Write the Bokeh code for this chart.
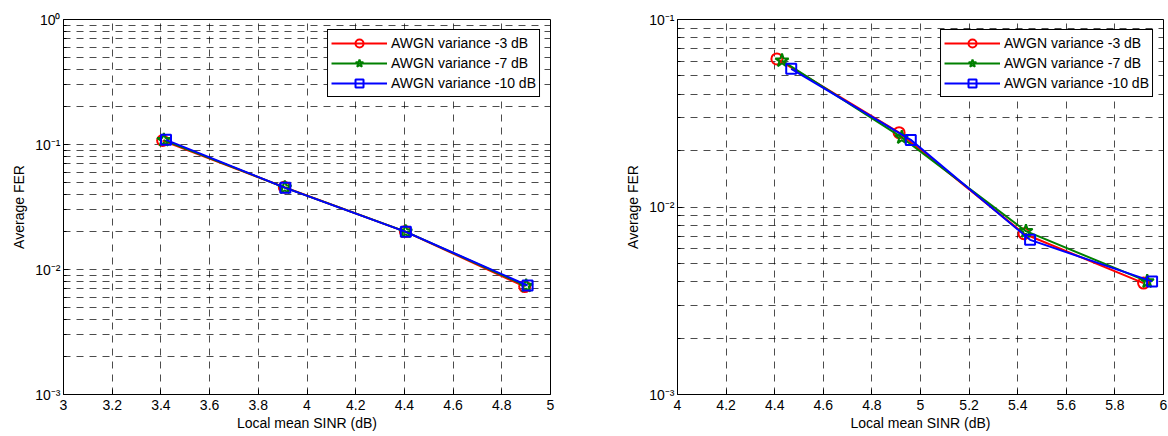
from bokeh.plotting import figure
from bokeh.layouts import row
from bokeh.models import Range1d, FixedTicker, Legend, LegendItem
from bokeh.embed import file_html
from bokeh.resources import INLINE

# ---------------- data ----------------
series_names = ["AWGN variance -3 dB", "AWGN variance -7 dB", "AWGN variance -10 dB"]
series_colors = ["#ff0000", "#008000", "#0000ff"]
series_markers = ["circle", "star", "square"]

# left panel
left_x_red = [3.407, 3.907, 4.404, 4.894]
left_y_red = [0.1076, 0.0455, 0.0201, 0.0073]
left_x_green = [3.412, 3.909, 4.405, 4.900]
left_y_green = [0.1085, 0.0452, 0.0201, 0.0074]
left_x_blue = [3.421, 3.911, 4.406, 4.906]
left_y_blue = [0.1090, 0.0450, 0.0200, 0.00745]

# right panel
right_x_red = [4.409, 4.912, 5.426, 5.918]
right_y_red = [0.0616, 0.0249, 0.0072, 0.00393]
right_x_green = [4.430, 4.923, 5.434, 5.933]
right_y_green = [0.0604, 0.0235, 0.00743, 0.00401]
right_x_blue = [4.468, 4.960, 5.451, 5.953]
right_y_blue = [0.0546, 0.0228, 0.00668, 0.00401]

left_x_ticks = [3, 3.2, 3.4, 3.6, 3.8, 4, 4.2, 4.4, 4.6, 4.8, 5]
left_x_labels = ["3", "3.2", "3.4", "3.6", "3.8", "4", "4.2", "4.4", "4.6", "4.8", "5"]
right_x_ticks = [4, 4.2, 4.4, 4.6, 4.8, 5, 5.2, 5.4, 5.6, 5.8, 6]
right_x_labels = ["4", "4.2", "4.4", "4.6", "4.8", "5", "5.2", "5.4", "5.6", "5.8", "6"]

left_y_ticks = [0.001, 0.01, 0.1, 1]
left_y_labels = ["10\u207b\u00b3", "10\u207b\u00b2", "10\u207b\u00b9", "10\u2070"]
right_y_ticks = [0.001, 0.01, 0.1]
right_y_labels = ["10\u207b\u00b3", "10\u207b\u00b2", "10\u207b\u00b9"]

x_label = "Local mean SINR (dB)"
y_label = "Average FER"

FONT = "Liberation Sans"
GRID_DASH = "7 6"
H = 436


def minor_log_ticks(major):
    out = []
    for t in major[:-1]:
        for m in range(2, 10):
            out.append(round(m * t, 6))
    return out


def make_panel(width, b_left, b_right, xr, yr, xt, xl, yt, yl, xs, ys):
    p = figure(width=width, height=H, x_range=Range1d(*xr), y_range=Range1d(*yr),
               y_axis_type="log", output_backend="svg", toolbar_location=None,
               min_border_left=b_left, min_border_right=b_right,
               min_border_top=19, min_border_bottom=42)
    p.background_fill_color = "white"
    p.border_fill_color = "white"
    p.outline_line_color = "black"
    p.outline_line_alpha = 1
    p.outline_line_width = 1

    xtick = FixedTicker(ticks=xt)
    ytick = FixedTicker(ticks=yt, minor_ticks=minor_log_ticks(yt))

    p.xaxis.ticker = xtick
    p.xaxis.major_label_overrides = dict(zip(xt, xl))
    p.yaxis.ticker = ytick
    p.yaxis.major_label_overrides = dict(zip(yt, yl))

    for ax in (p.xaxis[0], p.yaxis[0]):
        ax.major_tick_in = 5
        ax.major_tick_out = 0
        ax.minor_tick_in = 3
        ax.minor_tick_out = 0
        ax.axis_line_color = "black"
        ax.major_tick_line_color = "black"
        ax.minor_tick_line_color = "black"
        ax.major_label_text_font = FONT
        ax.major_label_text_font_size = "14px"
        ax.major_label_text_color = "black"
        ax.axis_label_text_font = FONT
        ax.axis_label_text_font_size = "14px"
        ax.axis_label_text_font_style = "normal"
        ax.axis_label_text_color = "black"
    p.xaxis.major_label_standoff = 5
    p.xaxis.axis_label_standoff = 2
    p.yaxis.major_label_standoff = 3
    p.yaxis.axis_label_standoff = 5
    p.xaxis.axis_label = x_label
    p.yaxis.axis_label = y_label

    for g in (p.xgrid[0], p.ygrid[0]):
        g.grid_line_color = "black"
        g.grid_line_alpha = 0.7
        g.grid_line_dash = GRID_DASH
        g.grid_line_width = 1
    p.ygrid.minor_grid_line_color = "black"
    p.ygrid.minor_grid_line_alpha = 0.7
    p.ygrid.minor_grid_line_dash = GRID_DASH

    items = []
    sizes = [11, 14, 10]
    for name, c, mk, x, y, s in zip(series_names, series_colors, series_markers, xs, ys, sizes):
        ln = p.line(x, y, line_color=c, line_width=2)
        sc = p.scatter(x, y, marker=mk, size=s, line_color=c, line_width=2, fill_color=None)
        items.append(LegendItem(label=name, renderers=[ln, sc]))

    legend = Legend(items=items, location="top_right", margin=10, padding=3, spacing=0,
                    glyph_width=56, glyph_height=20, label_height=20, label_standoff=4,
                    label_text_font=FONT, label_text_font_size="14px",
                    label_text_color="black", border_line_color="black",
                    border_line_width=1, border_line_alpha=1,
                    background_fill_color="white", background_fill_alpha=1)
    p.add_layout(legend)
    return p


p1 = make_panel(600, 63, 50, (3, 5), (0.001, 1), left_x_ticks, left_x_labels,
                left_y_ticks, left_y_labels,
                [left_x_red, left_x_green, left_x_blue],
                [left_y_red, left_y_green, left_y_blue])
p2 = make_panel(568, 77, 5, (4, 6), (0.001, 0.1), right_x_ticks, right_x_labels,
                right_y_ticks, right_y_labels,
                [right_x_red, right_x_green, right_x_blue],
                [right_y_red, right_y_green, right_y_blue])

layout = row(p1, p2)
open("out.html", "w").write(file_html(layout, INLINE))
